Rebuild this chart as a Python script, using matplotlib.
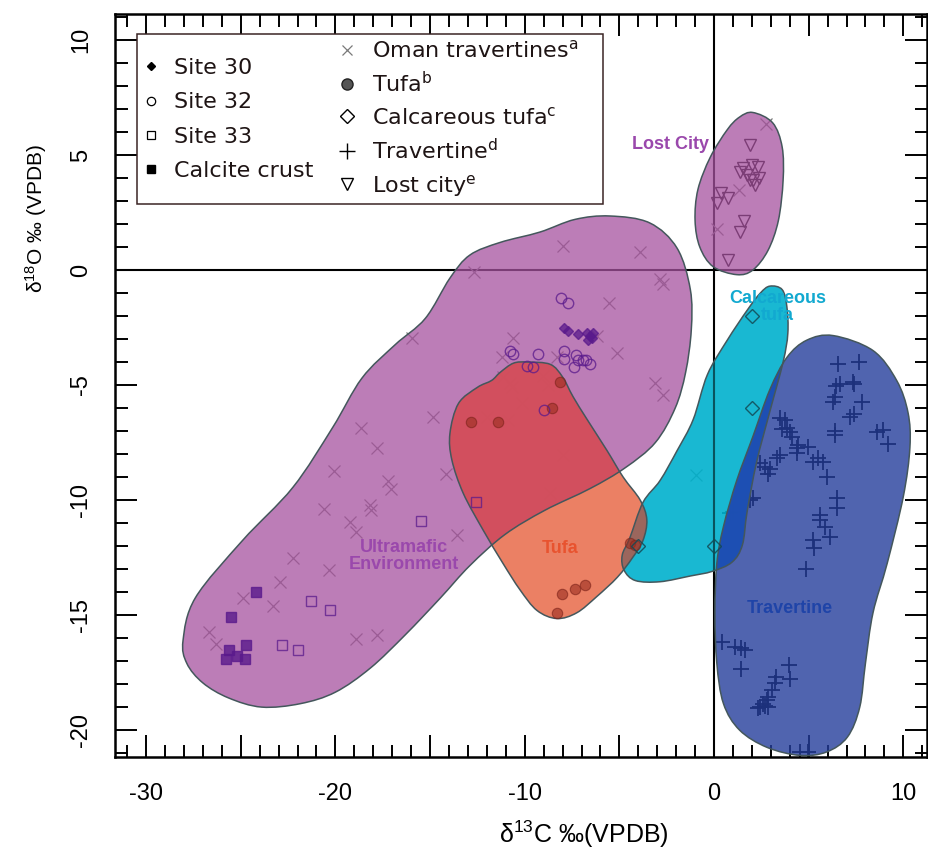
import numpy as np
import matplotlib
matplotlib.use("Agg")
import matplotlib.pyplot as plt
from matplotlib.path import Path
from matplotlib.patches import PathPatch, Rectangle
from matplotlib.lines import Line2D
from matplotlib.ticker import MultipleLocator, FuncFormatter

# ---------------------
# data (delta13C, delta18O, per mil VPDB)
# ---------------------
site30_x = [-7.9, -7.7, -7.2, -6.7, -6.55, -6.45, -6.65, -6.4]
site30_y = [-2.5, -2.65, -2.8, -2.75, -2.85, -2.95, -3.05, -2.75]

site32_x = [-8.1, -7.7, -10.8, -10.6, -9.3, -7.9, -7.9, -7.3, -7.2, -7.4, -6.9, -6.75, -6.55, -9.9, -9.55, -9.0]
site32_y = [-1.2, -1.45, -3.5, -3.65, -3.65, -3.5, -3.85, -3.7, -3.9, -4.2, -3.9, -3.9, -4.1, -4.15, -4.2, -6.1]

site33_x = [-15.5, -21.3, -20.3, -22.8, -22.0, -12.6]
site33_y = [-10.9, -14.4, -14.8, -16.3, -16.5, -10.1]

crust_x = [-24.2, -25.5, -24.7, -25.6, -25.8, -25.2, -24.8]
crust_y = [-14.0, -15.1, -16.3, -16.5, -16.9, -16.8, -16.9]

oman_x = [-12.7, -15.95, -14.85, -18.65, -17.8, -20.05, -17.2, -17.05, -14.15, -20.6,
          -18.15, -18.1, -19.25, -18.9, -13.6, -22.25, -20.35, -22.95, -24.9, -23.3,
          -26.7, -26.3, -18.9, -17.8, -8.0, -3.9, -2.85, -2.7, -5.55, -10.6,
          -11.2, -8.3, -6.2, -5.1, -3.1, -2.7, -11.15, -10.65, -10.8, -9.05,
          -8.75, -10.15, -12.0, -10.9, -8.0, -8.65, -0.95, 2.75, 1.3, 0.15]
oman_y = [-0.1, -2.95, -6.4, -6.85, -7.75, -8.75, -9.15, -9.5, -8.85, -10.4,
          -10.2, -10.45, -10.95, -11.4, -11.5, -12.5, -13.05, -13.55, -14.25, -14.6,
          -15.75, -16.25, -16.05, -15.85, 1.05, 0.8, -0.4, -0.6, -1.45, -2.95,
          -3.8, -3.8, -2.85, -3.6, -4.9, -5.45, -4.65, -5.1, -4.9, -4.6,
          -5.0, -5.8, -6.4, -6.5, -8.05, -9.7, -8.9, 6.35, 3.5, 1.8]

tufa_x = [-12.85, -11.4, -8.55, -8.15, -4.45, -4.15, -8.05, -7.35, -6.8, -8.3]
tufa_y = [-6.6, -6.6, -6.0, -4.85, -11.85, -11.95, -14.1, -13.85, -13.7, -14.9]

calc_x = [2.0, 2.0, -4.0, 0.0]
calc_y = [-2.0, -6.0, -12.0, -12.0]

trav_x = [6.55, 7.65, 6.45, 6.65, 7.35, 7.4, 6.4, 6.3, 7.8, 7.2, 7.4, 6.4, 6.4,
          8.6, 8.95, 9.2, 3.5, 3.75, 3.85, 3.6, 4.0, 4.1, 4.4, 4.45, 4.95, 4.4,
          3.5, 3.35, 5.25, 5.5, 5.75, 2.45, 2.7, 2.95, 2.85, 5.95, 2.05, 1.9,
          1.0, 0.85, 6.5, 6.5, 5.6, 5.6, 5.85, 6.15, 5.25, 5.3, 4.85,
          0.4, 1.1, 1.45, 1.65, 1.4, 3.95, 4.0, 3.3, 3.2, 3.05, 2.85, 2.8,
          2.6, 2.45, 2.35, 2.7, 2.85, 4.55, 4.95]
trav_y = [-4.1, -4.0, -5.05, -4.95, -4.85, -4.95, -5.5, -5.75, -5.75, -6.4, -6.25, -7.0, -7.15,
          -7.05, -6.95, -7.55, -6.45, -6.5, -6.85, -6.9, -7.05, -7.25, -7.75, -7.6, -7.7, -7.95,
          -8.05, -8.15, -8.35, -8.15, -8.35, -8.4, -8.55, -8.65, -8.85, -9.0, -9.9, -10.0,
          -10.5, -10.55, -9.9, -10.35, -10.65, -10.85, -11.15, -11.6, -11.75, -12.1, -13.0,
          -16.15, -16.4, -16.45, -16.5, -17.35, -17.15, -17.8, -17.7, -17.95, -18.25, -18.55, -18.7,
          -18.85, -19.0, -19.05, -18.95, -19.0, -20.95, -20.95]

lost_x = [1.9, 1.55, 2.0, 2.3, 1.35, 1.75, 2.05, 2.4, 2.15, 1.9, 0.35, 0.75, 0.15, 1.6, 1.35, 0.75]
lost_y = [5.45, 4.45, 4.55, 4.5, 4.25, 4.15, 3.9, 4.0, 3.7, 3.9, 3.35, 3.15, 2.9, 2.15, 1.65, 0.45]

# field outlines (hand-drawn envelopes), vertices in data units
ultra_x = [-28.05, -27.4, -24.9, -22.25, -20.15, -18.6, -16.85, -15.25, -13.95, -12.9, -11.3,
           -9.2, -7.35, -5.5, -3.4, -1.95, -1.25, -1.2, -1.5, -2.05, -3.1, -4.7, -6.55,
           -8.95, -11.05, -12.9, -14.45, -16.3, -18.15, -20.0, -21.85, -23.9, -25.65, -27.0, -27.85]
ultra_y = [-16.1, -14.25, -11.75, -9.45, -6.85, -4.7, -3.25, -2.1, -0.35, 0.65, 1.2,
           1.65, 2.2, 2.35, 2.05, 0.95, -0.85, -2.6, -4.45, -6.0, -7.5, -8.6, -9.5,
           -10.45, -11.5, -12.85, -14.25, -15.85, -17.3, -18.35, -18.85, -19.0, -18.6, -17.95, -17.1]

tufa_env_x = [-9.85, -8.65, -8.0, -7.45, -6.7, -5.65, -4.8, -3.9, -3.55, -3.75, -4.3, -5.1,
              -6.2, -7.25, -8.3, -9.35, -10.25, -11.15, -12.2, -13.25, -13.85, -13.95, -13.5,
              -12.5, -11.75, -11.3, -10.6]
tufa_env_y = [-4.0, -4.1, -4.65, -5.5, -6.5, -7.85, -9.0, -10.0, -10.85, -11.75, -12.5, -13.35,
              -14.2, -14.9, -15.15, -14.8, -13.9, -12.75, -11.3, -9.7, -8.25, -7.1, -5.8,
              -5.1, -4.8, -4.45, -4.05]

calc_env_x = [2.95, 3.6, 3.85, 3.9, 3.65, 2.95, 2.25, 1.75, 1.5, 0.95, -0.1, -1.25, -2.85,
              -4.15, -4.75, -4.85, -4.45, -3.75, -2.85, -1.95, -1.1, -0.35, 0.7, 1.75, 2.45]
calc_env_y = [-0.7, -0.85, -1.6, -2.75, -4.0, -6.15, -8.35, -10.5, -11.95, -12.7, -13.1, -13.3,
              -13.55, -13.5, -13.05, -12.4, -11.65, -10.1, -9.15, -7.85, -6.5, -4.55, -3.05,
              -1.75, -1.0]

trav_env_x = [6.3, 8.4, 9.65, 10.25, 10.35, 10.0, 9.15, 8.4, 8.0, 7.7, 7.05, 5.95, 4.55,
              2.8, 1.35, 0.5, 0.15, 0.05, 0.15, 0.5, 1.2, 2.05, 2.95, 3.85, 4.9]
trav_env_y = [-2.85, -3.5, -4.8, -6.2, -7.7, -9.85, -12.75, -14.9, -17.1, -19.0, -20.3, -20.95,
              -21.1, -20.75, -20.0, -18.85, -17.1, -14.9, -12.75, -11.15, -9.15, -7.25, -5.2,
              -3.8, -3.05]

lost_env_x = [2.05, 3.1, 3.6, 3.65, 3.4, 2.85, 2.05, 1.2, -0.05, -0.75, -1.0, -0.85, -0.2, 0.7, 1.35]
lost_env_y = [6.85, 6.4, 5.35, 3.9, 2.15, 0.85, 0.0, -0.2, 0.15, 1.0, 2.15, 3.5, 4.9, 6.1, 6.65]


def smooth_path(xs, ys):
    # closed Catmull-Rom curve written as cubic Bezier segments
    pts = np.column_stack([xs, ys])
    n = len(pts)
    verts = [pts[0]]
    codes = [Path.MOVETO]
    for i in range(n):
        p0, p1, p2, p3 = pts[i - 1], pts[i], pts[(i + 1) % n], pts[(i + 2) % n]
        verts += [p1 + (p2 - p0) / 6, p2 - (p3 - p1) / 6, p2]
        codes += [Path.CURVE4] * 3
    verts.append(pts[0])
    codes.append(Path.CLOSEPOLY)
    return Path(verts, codes)


plt.rcParams['font.family'] = ['Liberation Sans', 'DejaVu Sans']

fig = plt.figure(figsize=(9.29, 8.5), dpi=100)
ax = fig.add_axes([0.1243, 0.1094, 0.8735, 0.8741])
ax.set_xlim(-31.62, 11.25)
ax.set_ylim(-21.17, 11.13)

# zero lines and markers sit under the translucent fields
ax.axhline(0, color='black', lw=1.5, zorder=1)
ax.axvline(0, color='black', lw=1.5, zorder=1)

ax.plot(oman_x, oman_y, 'x', color='#7a7a7a', ms=9, mew=0.9, zorder=2)
ax.plot(trav_x, trav_y, '+', color='black', ms=11, mew=1.3, zorder=2)
ax.plot(lost_x, lost_y, 'v', mfc='none', mec='black', ms=9, mew=1.0, zorder=2)

edge = '#44575c'
fields = {}
for name, xs, ys, col, a in [
        ('ultra', ultra_x, ultra_y, '#a6529f', 0.75),
        ('lost', lost_env_x, lost_env_y, '#a6529f', 0.75),
        ('tufa', tufa_env_x, tufa_env_y, '#e7603d', 0.8),
        ('calc', calc_env_x, calc_env_y, '#00b1cd', 0.9),
        ('trav', trav_env_x, trav_env_y, '#243d9b', 0.8)]:
    p = PathPatch(smooth_path(xs, ys), facecolor=col, edgecolor='none', alpha=a, zorder=3)
    ax.add_patch(p)
    fields[name] = p

# overlap tints
for top, base, col in [('tufa', 'ultra', '#d04c60'),
                       ('tufa', 'calc', '#b35a4c'),
                       ('trav', 'calc', '#1d4fb6')]:
    ov = PathPatch(fields[top].get_path(), facecolor=col, edgecolor='none', alpha=0.85, zorder=3.5)
    ax.add_patch(ov)
    ov.set_clip_path(fields[base])

# zero line seen through the opaque-looking cyan field
vl = ax.axvline(0, color='#0b4650', lw=1.5, alpha=0.85, zorder=3.6)
vl.set_clip_path(fields['calc'])

for p in fields.values():
    ax.add_patch(PathPatch(p.get_path(), facecolor='none', edgecolor=edge, lw=1.1, zorder=4))

ax.plot(tufa_x, tufa_y, 'o', color='#9a2e20', mec='#7a2018', ms=7.5, mew=0.8, alpha=0.6, zorder=5)
ax.plot(calc_x, calc_y, 'D', mfc='none', mec='#124a55', ms=7.5, mew=1.0, alpha=0.85, zorder=5)

# this study's samples
site_col = '#5a1a8c'
ax.plot(site30_x, site30_y, 'D', color=site_col, ms=5, alpha=0.75, zorder=5)
ax.plot(site32_x, site32_y, 'o', mfc='none', mec=site_col, ms=7.5, mew=1.0, alpha=0.75, zorder=5)
ax.plot(site33_x, site33_y, 's', mfc='none', mec=site_col, ms=6.5, mew=1.0, alpha=0.75, zorder=5)
ax.plot(crust_x, crust_y, 's', color=site_col, ms=7, alpha=0.8, zorder=5)

# field names
ax.text(-2.3, 5.45, 'Lost City', color='#9a48ac', fontsize=13, fontweight='bold',
        ha='center', va='center', zorder=6)
ax.text(3.35, -1.6, 'Calcareous\ntufa', color='#12a9d0', fontsize=13, fontweight='bold',
        ha='center', va='center', linespacing=1.0, zorder=6)
ax.text(-16.4, -12.45, 'Ultramafic\nEnvironment', color='#9a48ac', fontsize=13,
        fontweight='bold', ha='center', va='center', linespacing=1.0, zorder=6)
ax.text(-8.15, -12.1, 'Tufa', color='#e8532f', fontsize=13, fontweight='bold',
        ha='center', va='center', zorder=6)
ax.text(4.0, -14.7, 'Travertine', color='#1f44a8', fontsize=13, fontweight='bold',
        ha='center', va='center', zorder=6)

# axes, ticks
for s in ax.spines.values():
    s.set_linewidth(1.8)
ax.xaxis.set_major_locator(MultipleLocator(5))
ax.xaxis.set_minor_locator(MultipleLocator(1))
ax.yaxis.set_major_locator(MultipleLocator(5))
ax.yaxis.set_minor_locator(MultipleLocator(1))
ax.xaxis.set_major_formatter(FuncFormatter(lambda v, p: f'{v:.0f}' if round(v) % 10 == 0 else ''))
ax.yaxis.set_major_formatter(FuncFormatter(lambda v, p: f'{v:.0f}'))
ax.tick_params(which='both', direction='in', top=True, right=True, width=1.4)
ax.tick_params(which='major', length=15.5, labelsize=17)
ax.tick_params(which='minor', length=9)
ax.tick_params(axis='x', pad=19)
ax.tick_params(axis='y', labelrotation=90, pad=17)
for lab in ax.get_yticklabels():
    lab.set_va('center')

ax.set_xlabel('δ$\\mathregular{^{13}}$C ‰(VPDB)', fontsize=18)
ax.xaxis.set_label_coords(0.577, -0.083)
ax.set_ylabel('δ$\\mathregular{^{18}}$O ‰ (VPDB)', fontsize=15)
ax.yaxis.set_label_coords(-0.082, 0.725)

# legend: two columns in one frame
leg_font = {'family': 'DejaVu Sans', 'size': 16}
h_left = [Line2D([], [], ls='none', marker='D', color='black', ms=4.5),
          Line2D([], [], ls='none', marker='o', mfc='none', mec='black', ms=6, mew=0.9),
          Line2D([], [], ls='none', marker='s', mfc='none', mec='black', ms=5.5, mew=0.9),
          Line2D([], [], ls='none', marker='s', color='black', ms=6)]
l_left = ['Site 30', 'Site 32', 'Site 33', 'Calcite crust']
h_right = [Line2D([], [], ls='none', marker='x', color='#7a7a7a', ms=7, mew=0.9),
           Line2D([], [], ls='none', marker='o', color='#555555', mec='#222222', ms=8),
           Line2D([], [], ls='none', marker='D', mfc='none', mec='black', ms=7.5, mew=1.0),
           Line2D([], [], ls='none', marker='+', color='black', ms=11, mew=1.0),
           Line2D([], [], ls='none', marker='v', mfc='none', mec='black', ms=8, mew=1.0)]
l_right = ['Oman travertines$\\mathregular{^a}$', 'Tufa$\\mathregular{^b}$',
           'Calcareous tufa$\\mathregular{^c}$', 'Travertine$\\mathregular{^d}$',
           'Lost city$\\mathregular{^e}$']

leg1 = ax.legend(h_left, l_left, loc='upper left', bbox_to_anchor=(0.030, 0.941),
                 frameon=False, prop=leg_font, borderpad=0, borderaxespad=0,
                 handlelength=1.0, handletextpad=0.55, labelspacing=0.65)
ax.add_artist(leg1)
leg2 = ax.legend(h_right, l_right, loc='upper left', bbox_to_anchor=(0.2717, 0.966),
                 frameon=False, prop=leg_font, borderpad=0, borderaxespad=0,
                 handlelength=1.0, handletextpad=0.6, labelspacing=0.44)
for lg in (leg1, leg2):
    for t in lg.get_texts():
        t.set_color('#1e1414')
    lg.set_zorder(8)

ax.add_patch(Rectangle((0.0264, 0.744), 0.5741, 0.229, transform=ax.transAxes,
                       facecolor='white', edgecolor='#3a2424', lw=1.1, zorder=7))

fig.savefig('out.png', dpi=100)
